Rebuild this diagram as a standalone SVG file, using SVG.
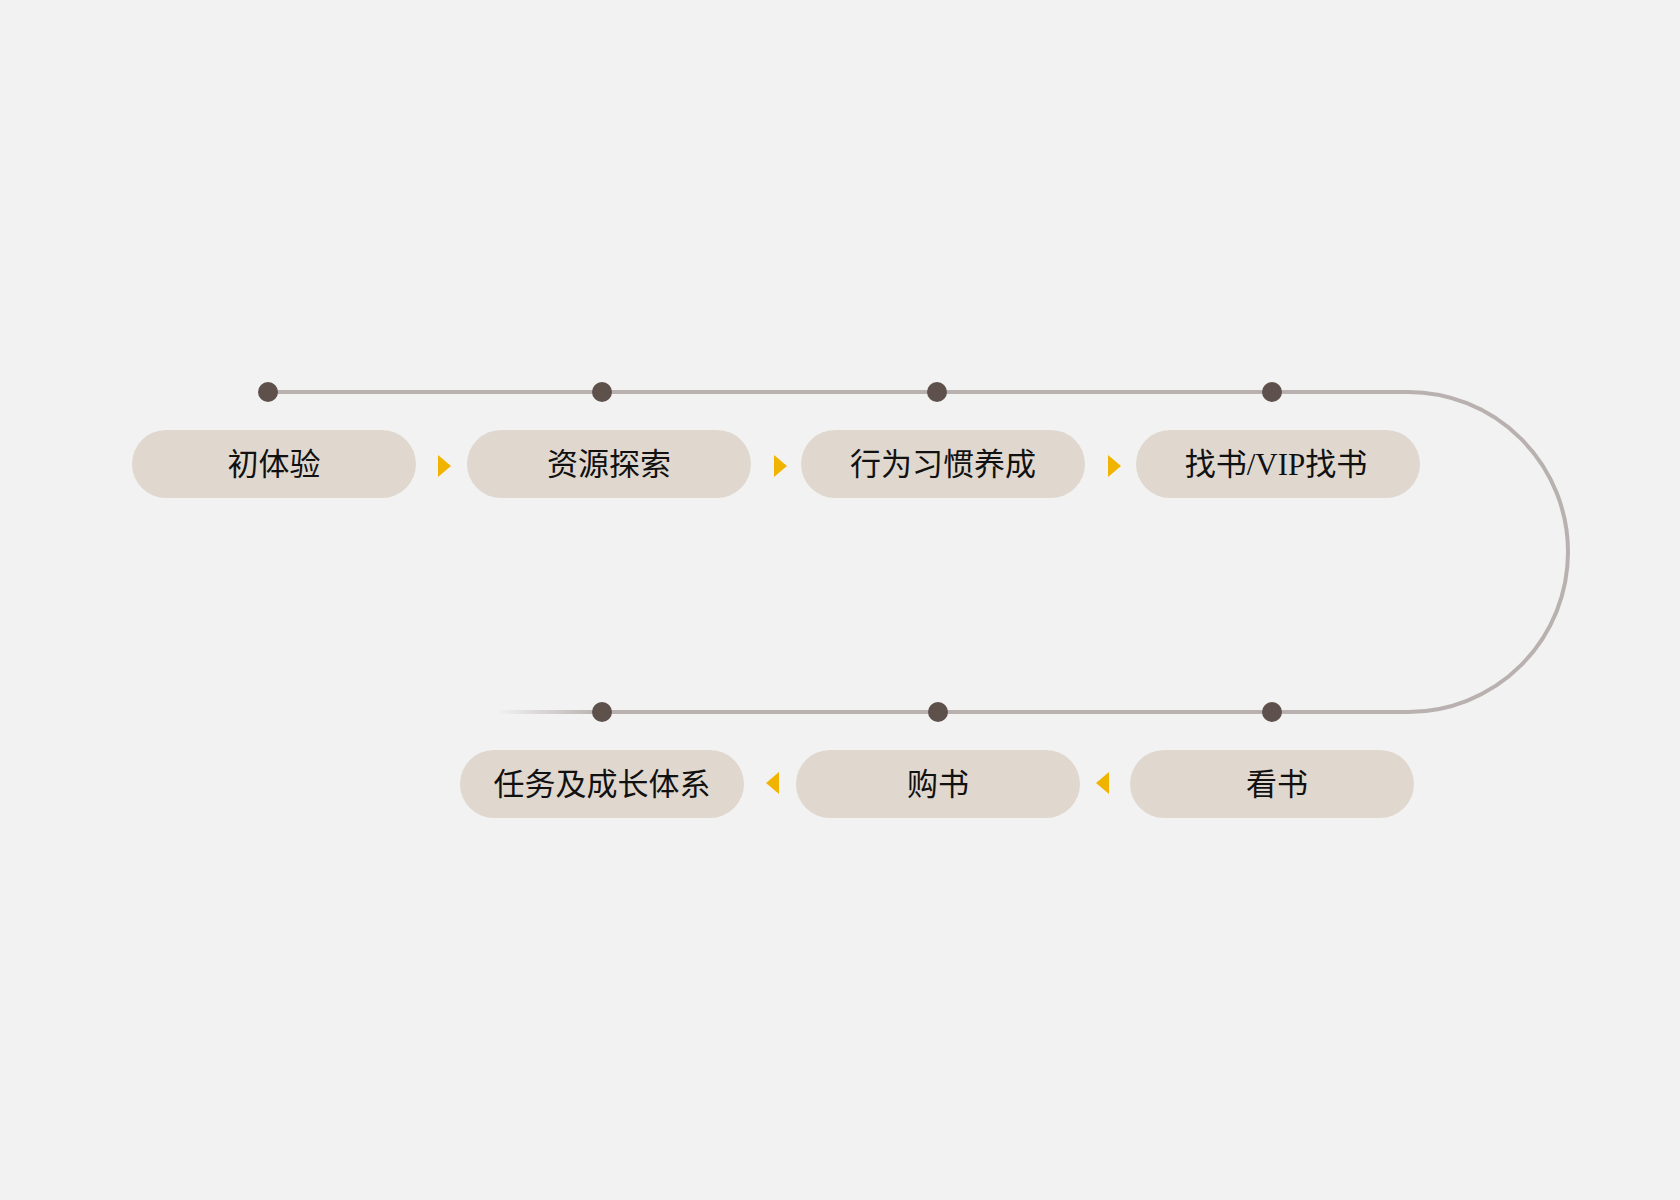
<svg xmlns="http://www.w3.org/2000/svg" width="1680" height="1200" viewBox="0 0 1680 1200">
<style>
.pill{fill:#E0D8CF}
.lbl{font-family:"Liberation Serif","Noto Sans CJK SC",serif;font-size:31px;fill:#111111;text-anchor:middle;dominant-baseline:central}
.dot{fill:#5E514C}
.line{fill:none;stroke:#B8B1AF;stroke-width:4}
.arr{fill:#F0B400}
</style>
<defs>
<linearGradient id="fade" gradientUnits="userSpaceOnUse" x1="497" y1="0" x2="600" y2="0">
<stop offset="0" stop-color="#B8B1AF" stop-opacity="0"/>
<stop offset="1" stop-color="#B8B1AF" stop-opacity="1"/>
</linearGradient>
</defs>
<rect width="1680" height="1200" fill="#F2F2F2"/>
<g id="connectors">
<path class="line" d="M268 392 H1408 A160 160 0 0 1 1408 712 H600"/>
<line x1="497" y1="712" x2="602" y2="712" stroke="url(#fade)" stroke-width="4"/>
<polygon class="arr" points="438,455 451,466 438,477"/>
<polygon class="arr" points="774,455 787,466 774,477"/>
<polygon class="arr" points="1108,455 1121,466 1108,477"/>
<polygon class="arr" points="1109,772 1096,783 1109,794"/>
<polygon class="arr" points="779,772 766,783 779,794"/>
<circle class="dot" cx="268" cy="392" r="10"/>
<circle class="dot" cx="602" cy="392" r="10"/>
<circle class="dot" cx="937" cy="392" r="10"/>
<circle class="dot" cx="1272" cy="392" r="10"/>
<circle class="dot" cx="602" cy="712" r="10"/>
<circle class="dot" cx="938" cy="712" r="10"/>
<circle class="dot" cx="1272" cy="712" r="10"/>
</g>
<g id="n1"><rect class="pill" x="132" y="430" width="284" height="68" rx="34"/><text class="lbl" x="274" y="464">初体验</text></g>
<g id="n2"><rect class="pill" x="467" y="430" width="284" height="68" rx="34"/><text class="lbl" x="609" y="464">资源探索</text></g>
<g id="n3"><rect class="pill" x="801" y="430" width="284" height="68" rx="34"/><text class="lbl" x="943" y="464">行为习惯养成</text></g>
<g id="n4"><rect class="pill" x="1136" y="430" width="284" height="68" rx="34"/><text class="lbl" x="1276" y="464">找书/VIP找书</text></g>
<g id="n5"><rect class="pill" x="1130" y="750" width="284" height="68" rx="34"/><text class="lbl" x="1277" y="784">看书</text></g>
<g id="n6"><rect class="pill" x="796" y="750" width="284" height="68" rx="34"/><text class="lbl" x="938" y="784">购书</text></g>
<g id="n7"><rect class="pill" x="460" y="750" width="284" height="68" rx="34"/><text class="lbl" x="602" y="784">任务及成长体系</text></g>
</svg>
